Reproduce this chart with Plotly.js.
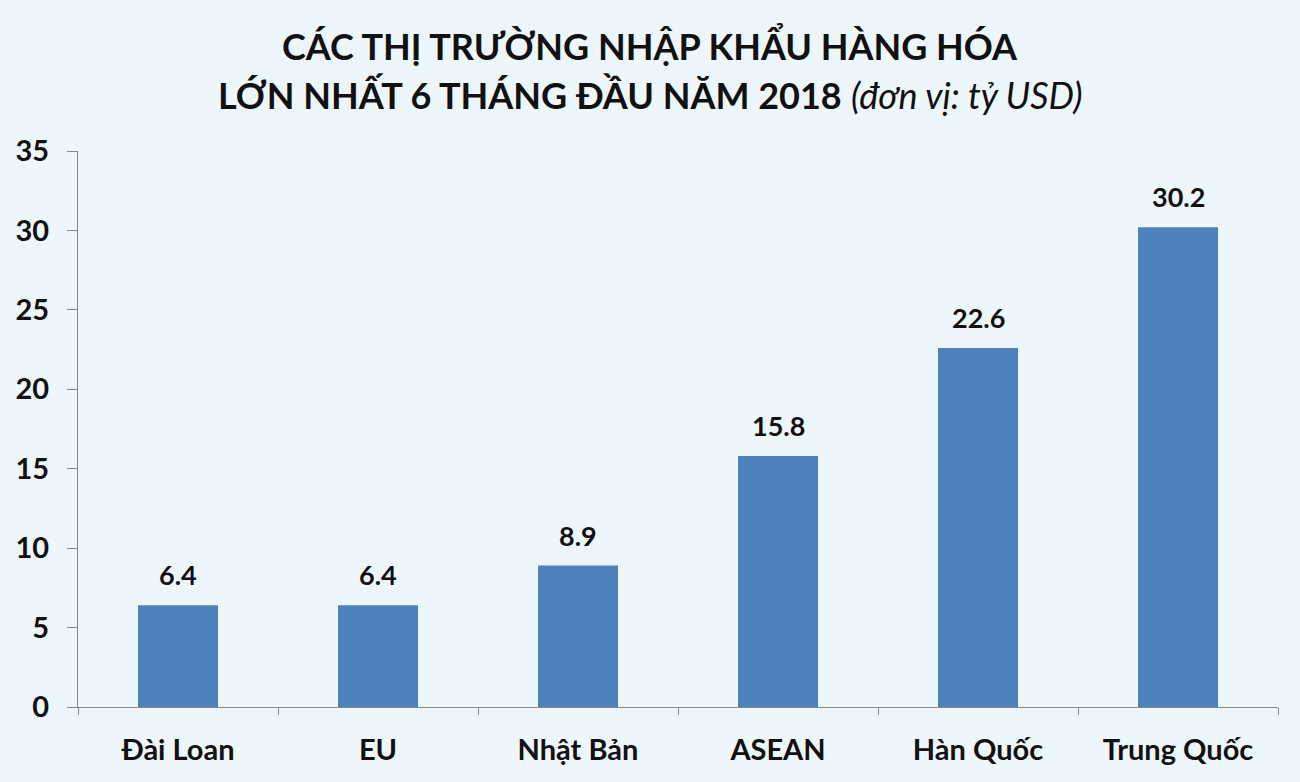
<!DOCTYPE html>
<html><head><meta charset="utf-8">
<script src="https://cdn.plot.ly/plotly-3.0.1.min.js"></script>
<style>html,body{margin:0;padding:0;background:#edf6fa;}#chart{width:1300px;height:782px;}</style>
</head><body><div id="chart"></div>
<script>
const categories = ["Đài Loan", "EU", "Nhật Bản", "ASEAN", "Hàn Quốc", "Trung Quốc"];
const values = [6.4, 6.4, 8.9, 15.8, 22.6, 30.2];
const valueLabels = ["6.4", "6.4", "8.9", "15.8", "22.6", "30.2"];
const yTicks = [0, 5, 10, 15, 20, 25, 30, 35];
const titleLines = [
  "<b>CÁC THỊ TRƯỜNG NHẬP KHẨU HÀNG HÓA</b>",
  "<b>LỚN NHẤT 6 THÁNG ĐẦU NĂM 2018</b> <i>(đơn vị: tỷ USD)</i>"
];

const font = "Lato, 'Open Sans', sans-serif";
const trace = {
  type: "bar", x: categories, y: values,
  marker: {color: "#4f81bd"},
  hoverinfo: "none"
};
const valueAnnotations = categories.map((c, i) => ({
  x: c, y: values[i], xref: "x", yref: "y",
  text: "<b>" + valueLabels[i] + "</b>",
  showarrow: false, xanchor: "center", yanchor: "bottom", yshift: 12,
  font: {family: font, size: 27, color: "#111"}
}));
const titleAnnotations = titleLines.map((t, i) => ({
  x: 0.4767, xref: "paper", y: [1.1906, 1.1007][i], yref: "paper",
  text: t, showarrow: false, xanchor: "center", yanchor: "middle",
  font: {family: font, size: 36, color: "#111"}
}));
const layout = {
  width: 1300, height: 782,
  paper_bgcolor: "#edf6fa", plot_bgcolor: "#edf6fa",
  margin: {l: 78, r: 22, t: 151, b: 75},
  bargap: 0.6,
  showlegend: false,
  font: {family: font, color: "#111"},
  annotations: valueAnnotations.concat(titleAnnotations),
  xaxis: {
    showline: true, linecolor: "#888", linewidth: 1,
    ticks: "outside", tickson: "boundaries", ticklen: 7, tickcolor: "#888",
    tickfont: {family: font, size: 29, color: "#111", weight: "bold"},
    showgrid: false, ticklabelstandoff: 17
  },
  yaxis: {
    range: [0, 35], tickvals: yTicks,
    showline: true, linecolor: "#888", linewidth: 1,
    ticks: "outside", ticklen: 10, tickcolor: "#888",
    tickfont: {family: font, size: 29, color: "#111", weight: "bold"},
    showgrid: false, zeroline: false, ticklabelstandoff: 12
  }
};
Plotly.newPlot("chart", [trace], layout, {displayModeBar: false, staticPlot: true});
</script></body></html>
